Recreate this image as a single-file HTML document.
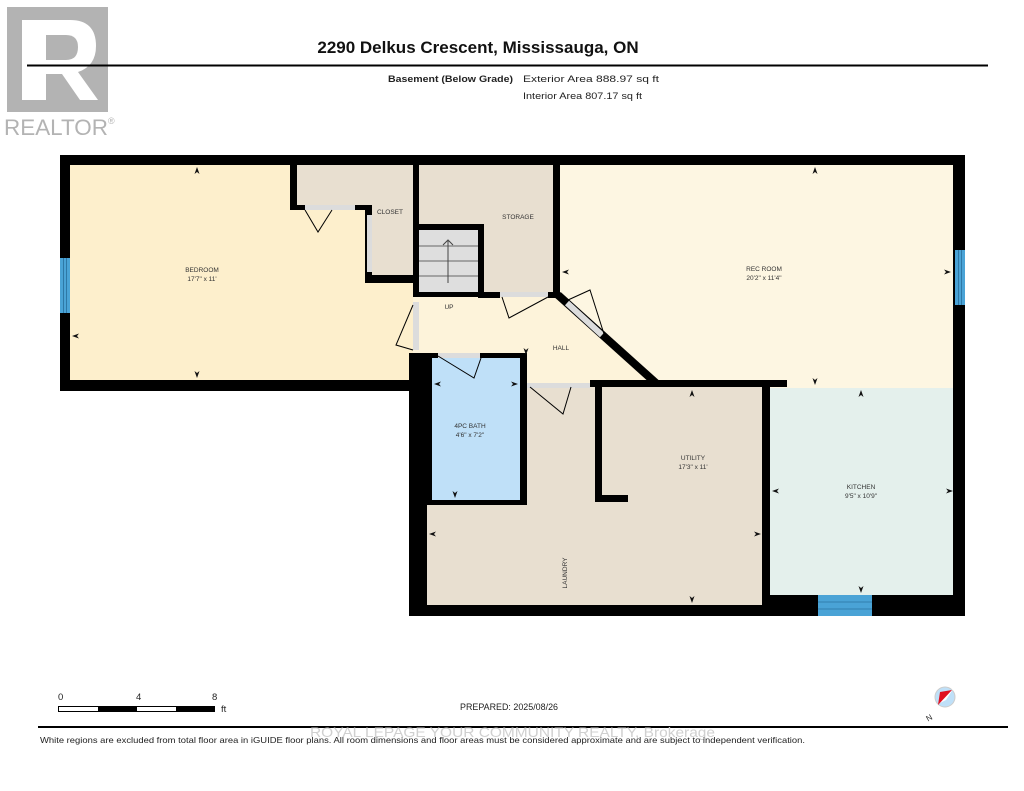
<!DOCTYPE html>
<html><head><meta charset="utf-8"><style>
html,body{margin:0;padding:0;background:#fff;}
svg{display:block;}
text{font-family:"Liberation Sans",Arial,sans-serif;}
</style></head><body>
<svg width="1024" height="791" viewBox="0 0 1024 791" xmlns="http://www.w3.org/2000/svg">
<!-- Realtor logo -->
<rect x="7" y="7" width="101" height="105" fill="#b3b3b3"/>
<path d="M22 20 H70 Q96 20 96 46 Q96 66 78 72 L98 100 H80 L62 74 H46 V100 H22 Z" fill="#fff"/>
<path d="M46 35 H66 Q78 35 78 47 Q78 60 66 60 H46 Z" fill="#b3b3b3"/>
<text x="4" y="135" font-size="22" fill="#b3b3b3" textLength="104" lengthAdjust="spacingAndGlyphs">REALTOR</text>
<text x="108" y="124" font-size="9" fill="#b3b3b3">®</text>
<!-- header -->
<text x="478" y="53" font-size="17" font-weight="bold" text-anchor="middle" fill="#111">2290 Delkus Crescent, Mississauga, ON</text>
<line x1="27" y1="65.5" x2="988" y2="65.5" stroke="#000" stroke-width="2"/>
<text x="388" y="82" font-size="9.5" font-weight="bold" fill="#222" textLength="125" lengthAdjust="spacingAndGlyphs">Basement (Below Grade)</text>
<text x="523" y="82" font-size="9.5" fill="#222" textLength="136" lengthAdjust="spacingAndGlyphs">Exterior Area 888.97 sq ft</text>
<text x="523" y="99" font-size="9.5" fill="#222" textLength="119" lengthAdjust="spacingAndGlyphs">Interior Area 807.17 sq ft</text>

<!-- plan outline (walls) -->
<polygon points="60,155 965,155 965,616 409,616 409,391 60,391" fill="#000"/>
<!-- bedroom -->
<rect x="70" y="165" width="343" height="215" fill="#fdefcc"/>
<!-- closet -->
<rect x="290" y="165" width="123" height="45" fill="#000"/>
<rect x="297" y="165" width="116" height="40" fill="#e8dfd0"/>
<rect x="365" y="205" width="48" height="78" fill="#000"/>
<rect x="372" y="205" width="41" height="70" fill="#e8dfd0"/>
<rect x="305" y="205" width="50" height="5" fill="#dcdcdc"/>
<rect x="367" y="215" width="5" height="57" fill="#dcdcdc"/>
<polyline points="305,210 318,232 332,210" fill="none" stroke="#000" stroke-width="1"/>
<rect x="413" y="155" width="6" height="148" fill="#000"/>
<!-- storage -->
<rect x="419" y="165" width="134" height="127" fill="#e8dfd0"/>
<!-- rec room -->
<rect x="560" y="165" width="393" height="215" fill="#fdf6e2"/>
<rect x="640" y="380" width="313" height="8" fill="#fdf6e2"/>
<!-- hall -->
<polygon points="413,297 560,297 650,380 650,388 413,388" fill="#fdf3da"/>
<rect x="413" y="302" width="6" height="48" fill="#dcdcdc"/>
<!-- stairs -->
<rect x="413" y="224" width="71" height="6" fill="#000"/>
<rect x="478" y="224" width="6" height="74" fill="#000"/>
<rect x="478" y="292" width="22" height="6" fill="#000"/>
<rect x="419" y="230" width="59" height="62" fill="#dedede"/>
<line x1="419" y1="246" x2="478" y2="246" stroke="#666" stroke-width="1"/>
<line x1="419" y1="261" x2="478" y2="261" stroke="#666" stroke-width="1"/>
<line x1="419" y1="276" x2="478" y2="276" stroke="#666" stroke-width="1"/>
<line x1="448" y1="283" x2="448" y2="241" stroke="#444" stroke-width="1"/>
<polyline points="443,245 448,240 453,245" fill="none" stroke="#444" stroke-width="1"/>
<rect x="500" y="292" width="48" height="5" fill="#dcdcdc"/>
<rect x="548" y="292" width="12" height="6" fill="#000"/>
<rect x="553" y="155" width="7" height="143" fill="#000"/>
<polyline points="502,297 509,318 548,297" fill="none" stroke="#000" stroke-width="1"/>
<!-- diagonal wall -->
<line x1="558" y1="295" x2="657" y2="384" stroke="#000" stroke-width="8"/>
<line x1="567" y1="303" x2="602" y2="335" stroke="#dcdcdc" stroke-width="6"/>
<polyline points="568,300 590,290 604,334" fill="none" stroke="#000" stroke-width="1"/>
<polyline points="413,305 396,345 413,350" fill="none" stroke="#000" stroke-width="1"/>
<rect x="590" y="380" width="197" height="7" fill="#000"/>
<!-- left wall of lower section -->
<rect x="409" y="353" width="23" height="263" fill="#000"/>
<!-- bath -->
<rect x="419" y="353" width="108" height="152" fill="#000"/>
<rect x="432" y="358" width="88" height="142" fill="#bfe0f8"/>
<rect x="438" y="353" width="42" height="5" fill="#dcdcdc"/>
<polyline points="438,356 474,378 481,358" fill="none" stroke="#000" stroke-width="1"/>
<!-- laundry/utility -->
<rect x="427" y="505" width="336" height="100" fill="#e8dfd0"/>
<rect x="527" y="387" width="236" height="218" fill="#e8dfd0"/>
<rect x="527" y="383" width="63" height="5" fill="#dcdcdc"/>
<polyline points="530,387 563,414 571,387" fill="none" stroke="#000" stroke-width="1"/>
<rect x="595" y="387" width="7" height="115" fill="#000"/>
<rect x="595" y="495" width="33" height="7" fill="#000"/>
<rect x="762" y="380" width="8" height="225" fill="#000"/>
<!-- kitchen -->
<rect x="770" y="388" width="183" height="207" fill="#e4f0ec"/>
<!-- windows -->
<rect x="60" y="258" width="10" height="55" fill="#4aa3d6"/>
<line x1="63.5" y1="258" x2="63.5" y2="313" stroke="#1d5d85" stroke-width="0.6"/>
<line x1="66.5" y1="258" x2="66.5" y2="313" stroke="#1d5d85" stroke-width="0.6"/>
<rect x="955" y="250" width="10" height="55" fill="#4aa3d6"/>
<line x1="958.5" y1="250" x2="958.5" y2="305" stroke="#1d5d85" stroke-width="0.6"/>
<line x1="961.5" y1="250" x2="961.5" y2="305" stroke="#1d5d85" stroke-width="0.6"/>
<rect x="818" y="595" width="54" height="21" fill="#4aa3d6"/>
<line x1="818" y1="602" x2="872" y2="602" stroke="#1d5d85" stroke-width="0.6"/>
<line x1="818" y1="609" x2="872" y2="609" stroke="#1d5d85" stroke-width="0.6"/>

<!-- labels -->
<g font-size="6.5" fill="#333" text-anchor="middle">
<text x="202" y="272">BEDROOM</text><text x="202" y="281">17'7" x 11'</text>
<text x="390" y="214">CLOSET</text>
<text x="518" y="219">STORAGE</text>
<text x="449" y="309">UP</text>
<text x="561" y="350">HALL</text>
<text x="764" y="271">REC ROOM</text><text x="764" y="280">20'2" x 11'4"</text>
<text x="470" y="428">4PC BATH</text><text x="470" y="437">4'6" x 7'2"</text>
<text x="693" y="460">UTILITY</text><text x="693" y="469">17'3" x 11'</text>
<text x="861" y="489">KITCHEN</text><text x="861" y="498">9'5" x 10'9"</text>
<text x="0" y="0" transform="translate(567,573) rotate(-90)">LAUNDRY</text>
</g>
<!-- dimension arrowheads -->
<g fill="#111">
<path d="M197,167 l-2.5,7 2.5,-2 2.5,2z"/><path d="M197,378 l-2.5,-7 2.5,2 2.5,-2z"/>
<path d="M72,336 l7,-2.5 -2,2.5 2,2.5z"/>
<path d="M815,167 l-2.5,7 2.5,-2 2.5,2z"/><path d="M815,385 l-2.5,-7 2.5,2 2.5,-2z"/>
<path d="M562,272 l7,-2.5 -2,2.5 2,2.5z"/><path d="M951,272 l-7,-2.5 2,2.5 -2,2.5z"/>
<path d="M434,384 l7,-2.5 -2,2.5 2,2.5z"/><path d="M518,384 l-7,-2.5 2,2.5 -2,2.5z"/>
<path d="M455,498 l-2.5,-7 2.5,2 2.5,-2z"/><path d="M526,355 l-2.5,-7 2.5,2 2.5,-2z"/>
<path d="M692,390 l-2.5,7 2.5,-2 2.5,2z"/><path d="M692,603 l-2.5,-7 2.5,2 2.5,-2z"/>
<path d="M429,534 l7,-2.5 -2,2.5 2,2.5z"/><path d="M761,534 l-7,-2.5 2,2.5 -2,2.5z"/>
<path d="M861,390 l-2.5,7 2.5,-2 2.5,2z"/><path d="M861,593 l-2.5,-7 2.5,2 2.5,-2z"/>
<path d="M772,491 l7,-2.5 -2,2.5 2,2.5z"/><path d="M953,491 l-7,-2.5 2,2.5 -2,2.5z"/>
</g>

<!-- footer -->
<g font-size="9.5" fill="#222">
<text x="58" y="700">0</text><text x="136" y="700">4</text><text x="212" y="700">8</text>
<text x="221" y="712">ft</text>
</g>
<rect x="58.5" y="706.5" width="156" height="5" fill="#fff" stroke="#000" stroke-width="1"/>
<rect x="98" y="706" width="39" height="6" fill="#000"/>
<rect x="176" y="706" width="39" height="6" fill="#000"/>
<text x="460" y="710" font-size="9" fill="#222" textLength="98" lengthAdjust="spacingAndGlyphs">PREPARED: 2025/08/26</text>
<circle cx="945" cy="697" r="10" fill="#bfe0f8" stroke="#ccc" stroke-width="1"/>
<polygon points="953,689 946,700 938,704" fill="#fff"/>
<polygon points="952,690 938,705 940,692" fill="#e01020"/>
<text x="926" y="720" font-size="8" fill="#222" transform="rotate(-30 930 717)">N</text>
<line x1="38" y1="727" x2="1008" y2="727" stroke="#000" stroke-width="2"/>
<text x="310" y="737" font-size="14" fill="#d0d0d0" textLength="405" lengthAdjust="spacingAndGlyphs">ROYAL LEPAGE YOUR COMMUNITY REALTY, Brokerage</text>
<text x="40" y="743" font-size="8.5" fill="#222" textLength="765" lengthAdjust="spacingAndGlyphs">White regions are excluded from total floor area in iGUIDE floor plans. All room dimensions and floor areas must be considered approximate and are subject to independent verification.</text>
</svg>
</body></html>
